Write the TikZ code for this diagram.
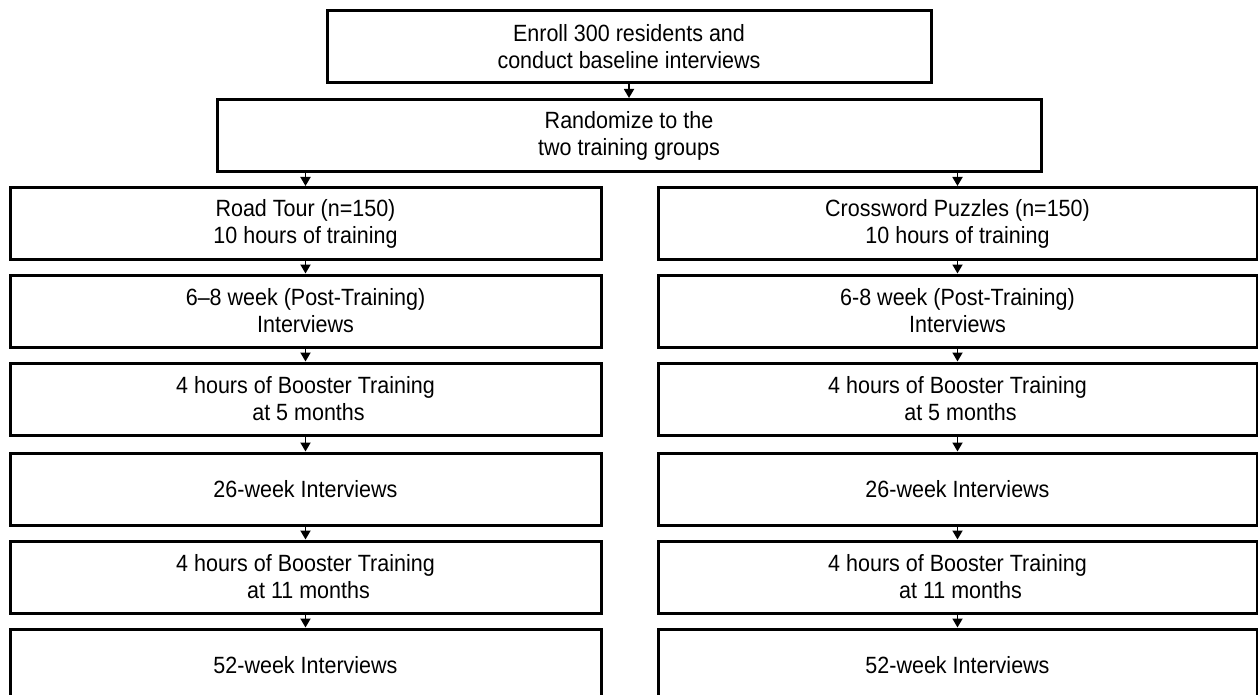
\documentclass[tikz,border=0pt]{standalone}
\usepackage{fontspec}
\setmainfont{Liberation Sans}[FakeStretch=0.915]
\usetikzlibrary{arrows.meta}
\begin{document}
\begin{tikzpicture}[x=1pt,y=-1pt,
  box/.style={draw=black, line width=3pt, fill=white, align=center, inner sep=0pt,
    font=\fontsize{23.5}{27}\selectfont, minimum height=72pt},
  lbox/.style={box, minimum width=591pt},
  rbox/.style={box, minimum width=599pt},
  arr/.style={line width=1.8pt, -{Triangle[length=9pt,width=10pt]}}]
\useasboundingbox (0,0) rectangle (1258,695);
\clip (0,0) rectangle (1258,695);
\node[box, minimum width=604pt, minimum height=72pt] (enroll) at (629,47) {Enroll 300 residents and\\conduct baseline interviews};
\node[box, minimum width=824pt, minimum height=72pt] (rand) at (629,135.5) {Randomize to the\\two training groups};
% left column
\node[lbox] (l1) at (305.5,223.5) {Road Tour (n=150)\\10 hours of training};
\node[lbox] (l2) at (305.5,311) {6–8 week (Post-Training)\\Interviews};
\node[lbox] (l3) at (305.5,399) {4 hours of Booster Training\\\ at 5 months};
\node[lbox] (l4) at (305.5,489) {26-week Interviews};
\node[lbox] (l5) at (305.5,577) {4 hours of Booster Training\\\ at 11 months};
\node[lbox] (l6) at (305.5,665) {52-week Interviews};
% right column
\node[rbox] (r1) at (957.5,223.5) {Crossword Puzzles (n=150)\\10 hours of training};
\node[rbox] (r2) at (957.5,311) {6-8 week (Post-Training)\\Interviews};
\node[rbox] (r3) at (957.5,399) {4 hours of Booster Training\\\ at 5 months};
\node[rbox] (r4) at (957.5,489) {26-week Interviews};
\node[rbox] (r5) at (957.5,577) {4 hours of Booster Training\\\ at 11 months};
\node[rbox] (r6) at (957.5,665) {52-week Interviews};
% connectors
\draw[arr] (enroll.south) -- (enroll.south |- rand.north);
\draw[arr] (rand.south -| l1.north) -- (l1.north);
\draw[arr] (rand.south -| r1.north) -- (r1.north);
\foreach \a/\b in {l1/l2,l2/l3,l3/l4,l4/l5,l5/l6,r1/r2,r2/r3,r3/r4,r4/r5,r5/r6}
  \draw[arr] (\a.south) -- (\b.north);
\end{tikzpicture}
\end{document}
